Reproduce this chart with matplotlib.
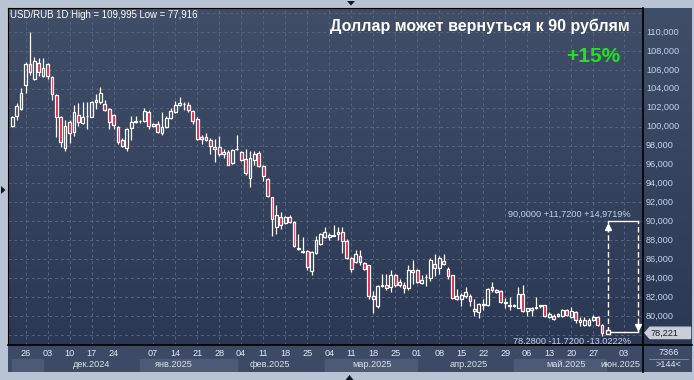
import matplotlib
matplotlib.use("Agg")
import matplotlib.pyplot as plt
import matplotlib.transforms as mtransforms
from matplotlib.patches import Polygon, Rectangle
import numpy as np

plt.rcParams['font.family'] = ['Liberation Sans', 'DejaVu Sans']

# daily candles USD/RUB, 21 Nov 2024 .. 29 May 2025
opens = [100.1, 101.15, 101.9, 104.45, 106.6, 105.0, 106.7, 105.4, 106.6, 105.2,
         103.3, 101.05, 97.7, 100.5, 99.4, 101.2, 100.4, 101.1, 101.05, 102.6,
         102.6, 102.4, 101.9, 101.2, 100.0, 98.6, 97.7, 99.9, 100.5, 100.6,
         100.6, 101.5, 100.3, 100.3, 99.3, 100.0, 100.9, 101.5, 102.3, 102.4,
         102.3, 101.6, 100.8, 98.9, 98.6, 98.6, 97.8, 97.8, 97.1, 97.35,
         96.2, 97.6, 97.3, 96.6, 94.55, 96.5, 97.25, 95.85, 94.5, 92.55,
         89.4, 90.5, 89.8, 90.5, 89.9, 87.1, 86.8, 86.9, 84.8, 86.7,
         87.6, 88.3, 88.3, 88.5, 88.7, 88.85, 87.95, 86.1, 85.7, 86.35,
         85.55, 85.4, 82.1, 81.05, 83.2, 83.3, 83.1, 84.3, 83.3, 83.3,
         83.0, 84.7, 84.85, 83.5, 84.1, 84.05, 85.45, 85.1, 85.8, 85.0,
         84.3, 82.1, 81.85, 82.15, 82.15, 80.7, 80.45, 81.15, 81.2, 83.03,
         82.75, 82.65, 81.4, 81.1, 81.1, 80.9, 82.3, 80.5, 80.9, 80.8,
         81.1, 81.15, 79.9, 80.0, 80.2, 79.95, 80.6, 79.85, 80.45, 79.4,
         79.05, 79.0, 79.55, 79.9, 79.1]
highs = [101.1, 102.45, 104.05, 106.8, 110.0, 107.4, 107.2, 107.2, 106.7, 105.3,
         103.5, 101.1, 100.7, 100.7, 102.3, 102.5, 102.6, 102.6, 102.7, 103.5,
         104.2, 102.8, 102.0, 101.3, 100.1, 98.8, 99.9, 101.1, 101.1, 100.7,
         102.0, 101.8, 100.4, 100.6, 101.5, 101.1, 101.95, 102.7, 103.1, 102.6,
         102.6, 101.8, 101.0, 99.1, 99.3, 98.8, 98.7, 99.0, 97.6, 97.5,
         97.6, 99.1, 97.4, 97.6, 97.4, 97.4, 97.4, 96.0, 94.6, 92.6,
         91.7, 91.0, 90.6, 90.7, 90.0, 88.7, 88.3, 87.0, 86.9, 88.5,
         88.8, 89.4, 88.8, 89.6, 89.4, 89.35, 88.1, 86.2, 87.0, 87.0,
         85.7, 85.4, 82.6, 83.3, 84.4, 84.4, 84.85, 84.4, 83.9, 83.6,
         85.4, 85.9, 84.95, 84.3, 84.4, 86.1, 86.6, 86.3, 86.6, 85.2,
         84.35, 82.9, 82.4, 83.05, 82.3, 81.8, 81.4, 81.85, 83.0, 83.6,
         82.9, 82.75, 81.9, 82.0, 81.3, 83.05, 83.3, 80.9, 81.0, 82.0,
         81.15, 81.2, 80.4, 80.2, 80.3, 80.7, 80.7, 80.95, 80.5, 79.9,
         79.9, 79.8, 80.1, 79.95, 79.2]
lows = [100.0, 100.7, 101.8, 103.6, 105.5, 104.9, 105.3, 105.2, 105.0, 102.8,
        98.95, 97.9, 97.4, 98.3, 99.0, 100.1, 100.3, 99.8, 101.0, 101.9,
        102.4, 101.6, 99.7, 99.7, 98.2, 97.8, 97.4, 98.6, 100.4, 100.4,
        100.5, 99.8, 100.0, 99.3, 99.1, 99.9, 100.85, 101.4, 102.2, 101.8,
        101.5, 100.3, 98.6, 98.2, 98.5, 97.1, 96.3, 96.9, 96.7, 95.9,
        96.1, 97.5, 96.4, 94.9, 93.6, 95.9, 95.7, 94.3, 92.6, 88.4,
        88.7, 89.2, 89.7, 89.8, 87.3, 87.0, 86.7, 84.9, 84.3, 86.6,
        87.5, 88.2, 88.0, 88.4, 88.0, 86.7, 86.0, 84.7, 85.6, 85.4,
        84.9, 81.8, 80.35, 80.9, 83.1, 82.7, 82.5, 83.1, 83.1, 82.4,
        82.8, 83.4, 83.5, 83.4, 83.2, 83.7, 84.2, 84.4, 85.4, 83.95,
        81.8, 81.7, 81.1, 81.9, 81.1, 80.0, 79.8, 80.6, 81.1, 82.5,
        82.4, 81.4, 80.9, 80.6, 81.0, 80.8, 80.4, 80.0, 80.0, 80.7,
        80.9, 79.9, 79.8, 79.6, 79.85, 79.85, 79.95, 79.8, 79.3, 78.9,
        78.95, 78.95, 79.45, 78.95, 77.92]
closes = [101.05, 102.2, 103.6, 106.6, 105.8, 106.9, 105.8, 106.2, 105.3, 103.5,
          101.05, 98.4, 100.1, 99.3, 101.5, 100.5, 101.0, 101.1, 102.6, 102.8,
          103.6, 101.8, 100.5, 100.2, 98.4, 98.0, 99.8, 100.5, 100.6, 100.6,
          101.65, 100.1, 100.1, 99.4, 100.0, 100.9, 101.65, 102.3, 102.45, 102.4,
          101.8, 100.6, 98.7, 98.7, 98.9, 98.0, 97.6, 97.1, 97.3, 96.0,
          97.5, 97.6, 96.5, 95.1, 96.7, 97.1, 95.8, 94.8, 92.7, 90.2,
          90.7, 89.6, 90.5, 89.9, 87.4, 87.1, 86.8, 85.2, 86.8, 88.0,
          88.7, 88.85, 88.55, 88.5, 88.85, 87.9, 86.1, 85.0, 86.6, 85.7,
          85.0, 82.1, 81.8, 83.2, 83.3, 83.0, 84.3, 83.3, 83.6, 83.0,
          84.9, 84.85, 83.6, 83.8, 84.1, 85.9, 85.1, 86.1, 85.5, 84.2,
          81.9, 81.8, 82.2, 82.5, 81.6, 80.5, 81.25, 81.25, 82.9, 82.8,
          82.5, 81.5, 81.4, 81.1, 81.15, 82.3, 80.55, 80.8, 80.6, 81.0,
          81.1, 79.95, 80.2, 79.7, 79.95, 80.6, 80.1, 80.55, 79.55, 79.55,
          79.55, 79.55, 79.9, 79.0, 78.22]

tick_pos = [3, 8, 13, 18, 23, 32, 37, 42, 47, 52, 57, 62, 67, 72, 77, 82, 87,
            92, 97, 102, 107, 112, 117, 122, 127, 132, 139]
tick_lab = ["26", "03", "10", "17", "24", "07", "14", "21", "28", "04", "11",
            "18", "25", "04", "11", "18", "25", "01", "08", "15", "22", "29",
            "06", "13", "20", "27", "03"]
month_edges = [0, 7, 29, 51, 71, 92, 114, 135]
month_lab = ["", "дек.2024", "янв.2025", "фев.2025", "мар.2025", "апр.2025", "май.2025", "июн.2025"]
month_lab_pos = [None, 18.1, 36.7, 58.6, 81.7, 103.6, 125.8, 138.1]

last_price = 78.221
measure_from = 78.28
measure_to = 90.0

W, H = 694, 380
XL = (-0.98, 143.3)
YL = (76.94, 112.53)
border = '#b8c3d3'
bar_bg = '#3c4a66'
txt_blue = '#c0d4ee'


def px_axes(x0, y0, x1, y1):
    return fig.add_axes([x0 / W, 1 - y1 / H, (x1 - x0) / W, (y1 - y0) / H])


def fx(x):
    return x / W


def fy(y):
    return 1 - y / H


fig = plt.figure(figsize=(W / 100, H / 100), dpi=100, facecolor=border)

ax = px_axes(8, 8, 643, 345)
axd = px_axes(8, 345, 643, 372)
axr = px_axes(643, 8, 692, 345)
axc = px_axes(643, 345, 692, 372)

# gradient background of the price area
grad = np.linspace(0, 1, 256).reshape(-1, 1)
top_c = np.array([64, 78, 104]) / 255
bot_c = np.array([42, 56, 84]) / 255
img = top_c * (1 - grad[..., None]) + bot_c * grad[..., None]
img = img.reshape(256, 1, 3)
for a, xl in [(ax, XL), (axr, (0, 1))]:
    a.imshow(img, extent=[xl[0], xl[1], YL[0], YL[1]], aspect='auto', zorder=0)
    a.set_xlim(*xl)
    a.set_ylim(*YL)

ax.set_yticks(np.arange(78, 113, 2))
ax.set_xticks(tick_pos)
ax.grid(True, color='#56657f', linestyle=(0, (3, 3)), linewidth=0.7, zorder=1)
ax.tick_params(length=0, labelbottom=False, labelleft=False)

# candles
o = np.array(opens)
c = np.array(closes)
hi = np.array(highs)
lo = np.array(lows)
idx = np.arange(len(o))
body_lo = np.minimum(o, c)
body_hi = np.maximum(o, c)
body_h = np.maximum(body_hi - body_lo, 0.04)
faces = ['none' if cc >= oo else '#e8173c' for oo, cc in zip(o, c)]
ax.vlines(idx, body_hi, hi, color='white', linewidth=0.9, zorder=3)
ax.vlines(idx, lo, body_lo, color='white', linewidth=0.9, zorder=3)
ax.bar(idx, body_h, bottom=body_lo, width=0.62, color=faces, edgecolor='white',
       linewidth=0.9, zorder=4)

# measuring tool
xl_m, xr_m = 135.3, 142.1
ax.plot([xl_m, xl_m], [measure_from, measure_to], color='white', lw=1, ls=(0, (4, 2)), zorder=5)
ax.plot([xr_m, xr_m], [measure_from, measure_to], color='white', lw=1, ls=(0, (4, 2)), zorder=5)
ax.plot([xl_m, xr_m], [measure_to, measure_to], color='white', lw=1, zorder=5)
ax.plot([xl_m, xr_m], [measure_from, measure_from], color='white', lw=1, zorder=5)
ax.plot(xl_m, measure_to - 0.6, marker='^', ms=4, color='white', zorder=6)
ax.plot(xr_m, measure_from + 0.6, marker='v', ms=4, color='white', zorder=6)
ax.plot(xl_m, measure_from, marker='s', ms=3, mfc='#2d3b57', mec='white', zorder=6)

# date panel
axd.set_facecolor(bar_bg)
axd.set_xlim(*XL)
axd.set_ylim(0, 1)
axd.axis('off')
axd.add_patch(Rectangle((XL[0], 0), XL[1] - XL[0], 1, color=bar_bg, zorder=0))
for k in range(len(month_edges)):
    x0 = month_edges[k]
    x1 = month_edges[k + 1] if k + 1 < len(month_edges) else XL[1]
    if k % 2 == 0:
        axd.add_patch(Rectangle((x0, 0), x1 - x0, 0.48, color='#4c5a76', zorder=1))
    if month_lab_pos[k] is not None:
        axd.text(month_lab_pos[k], 0.27, month_lab[k], color='#d8e2f0', fontsize=6.6,
                 ha='center', va='center', zorder=2, clip_on=True)
for p, lab in zip(tick_pos, tick_lab):
    axd.text(p, 0.68, lab, color='#e0e8f4', fontsize=6.6, ha='center', va='center',
             zorder=2, clip_on=True)

# right price scale
axr.axis('off')
for v in range(80, 111, 2):
    axr.text(0.06, v, f"{v},000", color=txt_blue, fontsize=6.6, ha='left', va='center')
tag = Polygon([(0.04, last_price), (0.14, last_price + 0.6), (0.97, last_price + 0.6),
               (0.97, last_price - 0.6), (0.14, last_price - 0.6)],
              closed=True, facecolor='#c9ced8', edgecolor='#c9ced8', zorder=3)
axr.add_patch(tag)
axr.text(0.16, last_price, "78,221", color='#18202e', fontsize=6.6, ha='left', va='center', zorder=4)

# corner panel
axc.set_xlim(0, 1)
axc.set_ylim(0, 1)
axc.axis('off')
axc.add_patch(Rectangle((0, 0), 1, 1, color=bar_bg, zorder=0))
axc.text(0.52, 0.72, "7366", color='#e0e8f4', fontsize=6.6, ha='center', va='center')
axc.plot([0.12, 0.92], [0.5, 0.5], color='#8090a8', lw=0.6)
axc.text(0.52, 0.26, ">144<", color='#e0e8f4', fontsize=6.6, ha='center', va='center')

# separator lines
fig.add_artist(plt.Line2D([fx(8), fx(692)], [fy(345), fy(345)], color='black', lw=1.2))
fig.add_artist(plt.Line2D([fx(643), fx(643)], [fy(8), fy(372)], color='black', lw=1.2))

# small markers on the frame
for pts in ([(347, 1), (355, 1), (351, 5.5)],
            [(345.5, 380), (353.5, 380), (349.5, 375)],
            [(1, 186), (1, 194), (5.5, 190)]):
    fig.add_artist(Polygon([(fx(x), fy(y)) for x, y in pts], closed=True,
                           facecolor='#101828', edgecolor='none', transform=fig.transFigure))

# texts
fig.text(fx(10), fy(15), "USD/RUB 1D High = 109,995 Low = 77,916", color='white',
         fontsize=6.9, ha='left', va='center')
fig.text(fx(630), fy(26), "Доллар может вернуться к 90 рублям", color='white',
         fontsize=11.5, fontweight='bold', ha='right', va='center')
fig.text(fx(620), fy(57), "+15%", color='#22e022', fontsize=15, fontweight='bold',
         ha='right', va='center')
fig.text(fx(631), fy(214), "90,0000 +11,7200 +14,9719%", color=txt_blue,
         fontsize=6.6, ha='right', va='center')
fig.text(fx(631), fy(341.5), "78.2800 -11.7200 -13.0222%", color=txt_blue,
         fontsize=6.6, ha='right', va='center', zorder=10)

fig.savefig("out.png", dpi=100, facecolor=fig.get_facecolor())
